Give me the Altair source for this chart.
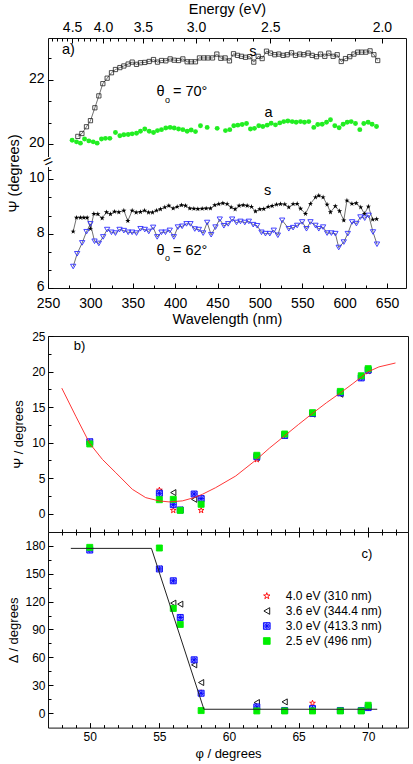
import altair as alt
import pandas as pd

FONT = "Liberation Sans"

# ---------------- panel a data (Psi vs wavelength) ----------------
s70_nm = [285.2, 290.0, 295.4, 300.1, 305.3, 310.0, 314.7, 319.8, 324.9, 329.6,
          334.8, 339.5, 344.6, 349.3, 354.4, 359.1, 364.2, 369.4, 374.5, 379.2,
          383.9, 389.0, 394.1, 398.9, 404.0, 409.1, 414.2, 418.9, 424.0, 428.7,
          433.9, 438.6, 444.1, 449.2, 453.9, 459.0, 464.1, 468.9, 473.6, 478.3,
          483.0, 488.1, 492.8, 498.0, 502.7, 507.8, 512.5, 517.6, 522.3, 527.4,
          532.2, 537.3, 542.0, 547.1, 551.8, 556.9, 561.7, 566.8, 571.5, 576.6,
          581.3, 586.4, 591.2,
          596.0, 601.0, 606.0, 611.0, 615.5, 620.0, 625.0, 630.0, 634.5, 639.0]
s70_psi = [20.24, 20.33, 20.54, 20.73, 21.13, 21.50, 21.88, 22.05, 22.22, 22.32,
           22.38, 22.43, 22.49, 22.55, 22.48, 22.53, 22.54, 22.57, 22.63, 22.55,
           22.60, 22.59, 22.65, 22.61, 22.60, 22.65, 22.56, 22.56, 22.56, 22.68,
           22.68, 22.68, 22.68, 22.80, 22.67, 22.68, 22.59, 22.81, 22.76, 22.73,
           22.70, 22.72, 22.55, 22.73, 22.66, 22.89, 22.83, 22.78, 22.80, 22.76,
           22.78, 22.84, 22.76, 22.80, 22.78, 22.83, 22.76, 22.72, 22.80, 22.73,
           22.83, 22.73, 22.78,
           22.57, 22.66, 22.72, 22.80, 22.86, 22.86, 22.86, 22.90, 22.78, 22.60]

a70_nm = [278.5, 283.6, 288.3, 293.1, 298.2, 303.3, 308.0, 313.1, 317.8, 323.0,
          329.6, 334.8, 339.5, 344.6, 349.3, 354.4, 359.1, 364.2, 369.4, 374.5,
          379.2, 383.9, 389.0, 394.1, 398.9, 404.0, 409.1, 414.2, 418.9, 424.0,
          429.9, 437.8, 449.6, 459.4, 464.5, 469.2, 474.0, 479.1, 484.2, 488.9,
          493.6, 498.7, 503.5, 508.6, 513.3, 518.4, 523.5, 528.2, 533.0, 538.1,
          542.8, 547.9, 552.6, 557.7, 563.6, 568.3, 573.5, 578.6, 583.3, 588.4,
          593.5, 598.2, 603.0, 607.7, 612.8, 617.9, 622.6, 627.7, 632.4, 637.6]
a70_psi = [20.12, 20.07, 20.03, 20.16, 20.10, 20.07, 20.03, 20.16, 20.18, 20.18,
           20.36, 20.26, 20.29, 20.30, 20.32, 20.34, 20.40, 20.47, 20.40, 20.36,
           20.42, 20.45, 20.50, 20.52, 20.50, 20.47, 20.45, 20.40, 20.44, 20.39,
           20.57, 20.52, 20.49, 20.42, 20.45, 20.57, 20.59, 20.61, 20.64, 20.47,
           20.49, 20.57, 20.55, 20.59, 20.65, 20.60, 20.66, 20.70, 20.72, 20.70,
           20.68, 20.70, 20.68, 20.70, 20.52, 20.61, 20.62, 20.68, 20.76, 20.57,
           20.51, 20.62, 20.68, 20.70, 20.64, 20.45, 20.64, 20.68, 20.62, 20.55]

s62_nm = [279.7, 283.6, 288.3, 292.3, 296.2, 300.1, 304.1, 308.8, 313.9, 319.0,
          323.7, 328.5, 333.6, 339.5, 344.2, 349.3, 354.0, 359.1, 363.9, 368.6,
          373.3, 378.0, 382.7, 387.8, 392.6, 397.7, 402.4, 407.5, 412.2, 417.3,
          422.1, 426.8, 431.9, 436.6, 441.7, 446.8, 451.5, 456.3, 461.4, 466.1,
          470.8, 475.5, 480.3, 485.0, 490.1, 494.8, 499.9, 504.6, 509.8, 514.5,
          519.6, 524.3, 529.4, 534.1, 539.2, 544.0, 548.0, 553.8, 559.7, 565.6,
          569.5, 574.6, 579.3, 583.3, 589.0, 594.0, 599.0, 602.7, 608.6, 613.7,
          619.0, 623.4, 628.0, 633.1, 637.8]
s62_psi = [8.08, 8.59, 8.59, 8.59, 8.59, 8.18, 8.73, 8.72, 8.57, 8.79,
           8.72, 8.81, 8.79, 8.85, 8.47, 8.85, 8.78, 8.80, 8.85, 8.78,
           8.78, 8.85, 8.90, 8.97, 9.03, 8.93, 8.99, 9.05, 9.03, 8.93,
           8.92, 8.91, 8.92, 8.93, 8.93, 9.05, 9.09, 9.12, 9.09, 8.97,
           8.90, 9.03, 9.05, 9.03, 8.99, 8.82, 8.90, 8.91, 8.99, 9.02,
           9.07, 9.09, 9.08, 8.97, 9.09, 9.10, 8.92, 8.73, 9.10, 9.34,
           9.40, 9.34, 9.07, 8.79, 9.01, 8.83, 8.49, 9.22, 9.10, 9.12,
           8.97, 8.73, 9.00, 8.52, 8.54]

a62_nm = [279.7, 284.4, 290.3, 295.4, 300.1, 304.9, 310.0, 315.1, 319.8, 324.9,
          329.6, 334.4, 339.5, 344.6, 349.3, 354.4, 359.1, 364.2, 368.9, 374.1,
          378.8, 383.9, 388.6, 393.7, 398.5, 403.2, 408.3, 413.4, 418.1, 423.2,
          428.0, 433.1, 437.8, 442.5, 447.6, 452.7, 457.5, 462.6, 467.3, 472.4,
          477.1, 482.2, 487.0, 492.1, 496.8, 501.9, 506.6, 511.7, 516.4, 521.2,
          526.3, 534.1, 539.2, 544.0, 549.9, 555.0, 559.7, 565.6, 569.5, 574.6,
          579.3, 584.4, 589.1, 593.0, 599.0, 603.7, 608.8, 613.9, 618.6, 623.7,
          628.4, 633.5, 638.2]
a62_psi = [6.79, 7.26, 7.66, 8.07, 8.36, 7.72, 7.64, 7.88, 8.15, 8.05,
           8.02, 8.15, 8.11, 8.05, 8.05, 8.02, 8.18, 8.15, 8.08, 8.23,
           7.88, 8.05, 8.05, 8.12, 7.88, 8.24, 8.27, 8.36, 8.36, 8.17,
           8.15, 8.02, 8.41, 7.96, 8.24, 8.53, 8.29, 8.36, 8.53, 8.41,
           8.45, 8.41, 8.45, 8.33, 8.29, 8.05, 8.00, 8.00, 8.12, 7.94,
           8.49, 8.18, 8.22, 8.30, 8.43, 8.18, 8.43, 8.30, 8.18, 8.24,
           8.02, 8.02, 8.00, 7.49, 7.69, 8.00, 8.43, 8.37, 8.61, 8.57,
           8.67, 8.06, 7.61]

# ---------------- panels b/c data ----------------
series = ["4.0 eV (310 nm)", "3.6 eV (344.4 nm)", "3.0 eV (413.3 nm)", "2.5 eV (496 nm)"]
phi = [50, 55, 56, 56.5, 57.5, 58, 62, 64, 66, 68, 69.5, 70]
psi_40 = [10.0, 3.3, 0.45, 0.5, 2.7, 0.45, 7.6, 11.0, 14.0, 16.9, 19.2, 20.0]
psi_36 = [10.1, 2.9, 2.95, 0.5, 2.0, 2.1, 7.9, 11.0, 14.0, 16.8, 19.2, 20.2]
psi_30 = [10.1, 2.85, 1.25, 0.5, 2.75, 2.1, 8.0, 11.0, 14.1, 17.0, 19.1, 20.2]
psi_25 = [9.8, 1.95, 2.0, 0.45, None, 1.3, 8.2, 11.2, 14.2, 17.2, 19.4, 20.4]
delta_40 = [176.0, 155.0, 142.0, 103.0, 57.0, 22.0, 7.0, 3.0, 10.8, 3.0, 3.0, 7.0]
delta_36 = [176.0, 155.0, 118.3, 117.2, 52.0, 33.0, 11.5, 12.2, 4.0, 3.0, 3.0, 7.0]
delta_30 = [175.3, 155.0, 142.3, 102.9, 57.4, 21.5, 6.8, 3.0, 5.0, 3.0, 3.0, 6.1]
delta_25 = [178.2, 177.5, 112.6, 95.4, None, 2.9, 2.5, 2.5, 2.5, 2.5, 2.5, 8.6]

fit_phi = [47.99, 49.0, 50.0, 50.91, 51.87, 53.06, 54.02, 54.98, 55.69, 56.65, 57.49,
           58.09, 59.04, 60.48, 61.99, 62.9, 63.97, 65.0, 66.0, 67.0, 67.94, 68.9,
           69.98, 70.77, 71.96]
fit_psi = [17.66, 13.69, 9.86, 7.62, 5.75, 3.41, 2.24, 1.78, 1.64, 1.78, 2.24,
           2.71, 3.64, 5.28, 7.62, 9.2, 10.9, 12.55, 14.1, 15.6, 16.9, 18.3,
           19.95, 20.65, 21.2]
model_phi = [48.64, 54.43, 58.2, 70.65]
model_delta = [177.1, 177.1, 4.3, 4.3]

# ---------------- helpers ----------------
STAR = ("M0,-1L0.225,-0.309L0.951,-0.309L0.363,0.118L0.588,0.809L0,0.382"
        "L-0.588,0.809L-0.363,0.118L-0.951,-0.309L-0.225,-0.309Z")
AST_SQ = ("M-1,-1L1,-1L1,1L-1,1Z M-1,0L1,0 M0,-1L0,1 "
          "M-0.72,-0.72L0.72,0.72 M-0.72,0.72L0.72,-0.72")


def ax(orient, values, size, **kw):
    d = dict(orient=orient, values=values, offset=-size, tickSize=size, domain=False,
             grid=False, labelFlush=False, labelOverlap=False, tickColor="black",
             tickWidth=1, title=None)
    d.update(kw)
    return alt.Axis(**d)


# ---------------- panel a ----------------
sx_a = alt.Scale(domain=[250, 672.4], nice=False, zero=False)
sy_a = alt.Scale(domain=[6, 10.6, 19.5, 23.3], range=[250, 125, 122.2, 0],
                 nice=False, zero=False)

nm_major = [250, 300, 350, 400, 450, 500, 550, 600, 650]
nm_minor = [275, 325, 375, 425, 475, 525, 575, 625]
psi_major = [6, 8, 10, 20, 22]
psi_minor = [6.667, 7.333, 8.667, 9.333, 10.333, 20.667, 21.333, 22.667]
e_major = [4.5, 4.0, 3.5, 3.0, 2.5, 2.0]
e_minor = [4.9, 4.8, 4.7, 4.6, 4.4, 4.3, 4.2, 4.1, 3.9, 3.8, 3.7, 3.6, 3.4, 3.3,
           3.2, 3.1, 2.9, 2.8, 2.7, 2.6, 2.4, 2.3, 2.2, 2.1]
HC = 1239.84 * 1.0613


def e_pos(E):
    return round(HC / E - 14, 2)


a_bottom = ax("bottom", nm_major, 5, labelPadding=8, labelFontSize=14, format="d",
              title="Wavelength (nm)", titleFontSize=14.5, titlePadding=2)
a_bottom_minor = ax("bottom", nm_minor, 3, labels=False)
a_top = ax("top", [e_pos(e) for e in e_major], 5, labelPadding=4, labelFontSize=14,
           labelExpr=f"format({HC:.4f}/(datum.value+14), '.1f')",
           title="Energy (eV)", titleFontSize=14.5, titlePadding=4)
a_top_minor = ax("top", [e_pos(e) for e in e_minor], 3, labels=False)
a_left = ax("left", psi_major, 5, labelPadding=4, labelFontSize=14, labelOffset=-1.5,
            title="Ψ (degrees)", titleFontSize=14.5, titlePadding=7, titleY=135)
a_left_minor = ax("left", psi_minor, 3, labels=False)


def xa(axis):
    return alt.X("nm:Q", scale=sx_a, axis=axis)


def ya(axis):
    return alt.Y("psi:Q", scale=sy_a, axis=axis)


df_s70 = pd.DataFrame({"nm": s70_nm, "psi": s70_psi})
df_a70 = pd.DataFrame({"nm": a70_nm, "psi": a70_psi})
df_s62 = pd.DataFrame({"nm": s62_nm, "psi": s62_psi})
df_a62 = pd.DataFrame({"nm": a62_nm, "psi": a62_psi})

ann_a = pd.DataFrame({
    "t": ["a)", "s", "θ", "= 70°", "a", "s", "θ", "= 62°", "a"],
    "nm": [274.2, 491.6, 382.7, 417.8, 510.2, 509.0, 382.7, 417.8, 555.0],
    "psi": [22.93, 22.87, 21.62, 21.62, 20.97, 9.58, 7.37, 7.37, 7.43],
})
sub_a = pd.DataFrame({"t": ["o", "o"], "nm": [391.0, 391.0], "psi": [21.37, 7.10]})
brk = pd.DataFrame({"x0": [248.0], "x1": [252.0], "y0": [19.6], "y1": [10.45]})
brk_mark = pd.DataFrame({"t": ["="], "nm": [250.0], "psi": [15.0]})

la = [
    alt.Chart(df_s70).mark_line(color="#333", strokeWidth=0.7).encode(
        x=xa(a_bottom), y=ya(a_left)),
    alt.Chart(df_s70).mark_point(shape="square", size=18, filled=False, color="#222",
                                 strokeWidth=0.8, opacity=1).encode(
        x=xa(a_bottom_minor), y=ya(a_left_minor)),
    alt.Chart(df_a70).mark_circle(size=24, color="#22ee22", opacity=1).encode(
        x=xa(a_top), y=ya(None)),
    alt.Chart(df_s62).mark_line(color="#333", strokeWidth=0.7).encode(
        x=xa(a_top_minor), y=ya(None)),
    alt.Chart(df_s62).mark_point(shape=STAR, size=30, filled=True, color="black",
                                 opacity=1).encode(x=xa(None), y=ya(None)),
    alt.Chart(df_a62).mark_line(color="#333", strokeWidth=0.7).encode(
        x=xa(None), y=ya(None)),
    alt.Chart(df_a62).mark_point(shape="triangle-down", size=28, filled=False,
                                 color="#3030ff", strokeWidth=0.9, opacity=1).encode(
        x=xa(None), y=ya(None)),
    alt.Chart(ann_a).mark_text(fontSize=14.5, font=FONT, color="black",
                               baseline="middle", align="center").encode(
        x=xa(None), y=ya(None), text="t:N"),
    alt.Chart(sub_a).mark_text(fontSize=9, font=FONT, color="black",
                               baseline="middle", align="center").encode(
        x=xa(None), y=ya(None), text="t:N"),
    alt.Chart(brk).mark_rect(color="white").encode(
        x=alt.X("x0:Q", scale=sx_a, axis=None), x2="x1:Q",
        y=alt.Y("y0:Q", scale=sy_a, axis=None), y2="y1:Q"),
    alt.Chart(brk_mark).mark_text(fontSize=16, font=FONT, color="black", angle=335,
                                  baseline="middle", align="center").encode(
        x=xa(None), y=ya(None), text="t:N"),
]
panel_a = alt.layer(*la).resolve_axis(x="independent", y="independent").properties(
    width=358, height=250)

# ---------------- panels b and c ----------------
sx_b = alt.Scale(domain=[47, 72.86], nice=False, zero=False)
sy_b = alt.Scale(domain=[-2.6, 25], nice=False, zero=False)
sy_c = alt.Scale(domain=[-15.4, 194.7], nice=False, zero=False)
phi_major = [50, 55, 60, 65, 70]
phi_minor = [48, 49, 51, 52, 53, 54, 56, 57, 58, 59, 61, 62, 63, 64, 66, 67, 68, 69, 71, 72]
b_major = [0, 5, 10, 15, 20, 25]
b_minor = [2.5, 7.5, 12.5, 17.5, 22.5]
c_major = [0, 30, 60, 90, 120, 150, 180]
c_minor = [15, 45, 75, 105, 135, 165]

rows = []
for name, ps, ds in zip(series, [psi_40, psi_36, psi_30, psi_25],
                        [delta_40, delta_36, delta_30, delta_25]):
    for p, v, d in zip(phi, ps, ds):
        rows.append({"phi": p, "psi": v, "delta": d, "series": name})
pts = pd.DataFrame(rows)
pts_other = pts[pts["series"] != series[3]]
pts_green = pts[pts["series"] == series[3]]


def sym_enc(legend):
    return dict(
        shape=alt.Shape("series:N", scale=alt.Scale(
            domain=series, range=[STAR, "triangle-left", AST_SQ, "square"]), legend=legend),
        fill=alt.Fill("series:N", scale=alt.Scale(
            domain=series, range=["transparent", "transparent", "#9c9cff", "#00ee00"]),
            legend=legend),
        stroke=alt.Stroke("series:N", scale=alt.Scale(
            domain=series, range=["#ff0000", "#000000", "#0000ff", "#00ee00"]),
            legend=legend),
    )


def xb(axis):
    return alt.X("phi:Q", scale=sx_b, axis=axis)


b_left = ax("left", b_major, 5, labelPadding=3, labelFontSize=12,
            title="Ψ / degrees", titleFontSize=13, titlePadding=6)
lb = [
    alt.Chart(pts_other).mark_point(size=36, strokeWidth=0.9, opacity=1).encode(
        x=xb(ax("bottom", phi_major, 5, labels=False)),
        y=alt.Y("psi:Q", scale=sy_b, axis=b_left), **sym_enc(None)),
    alt.Chart(pts_green).mark_point(size=36, strokeWidth=0.9, opacity=1).encode(
        x=xb(ax("bottom", phi_minor, 3, labels=False)),
        y=alt.Y("psi:Q", scale=sy_b, axis=ax("left", b_minor, 3, labels=False)),
        **sym_enc(None)),
    alt.Chart(pd.DataFrame({"phi": fit_phi, "psi": fit_psi})).mark_line(
        color="#ff2020", strokeWidth=0.9).encode(
        x=xb(None), y=alt.Y("psi:Q", scale=sy_b, axis=None)),
    alt.Chart(pd.DataFrame({"t": ["b)"], "phi": [49.27], "psi": [23.6]})).mark_text(
        fontSize=13, font=FONT, color="black", baseline="middle", align="center").encode(
        x=xb(None), y=alt.Y("psi:Q", scale=sy_b, axis=None), text="t:N"),
]
panel_b = alt.layer(*lb).resolve_axis(x="independent", y="independent").properties(
    width=360, height=196)

legend_c = alt.Legend(orient="none", legendX=212.8, legendY=58, title=None,
                      labelFontSize=12, labelFont=FONT, labelColor="black",
                      symbolSize=45, symbolStrokeWidth=0.9, rowPadding=3,
                      labelOffset=13, padding=0, symbolOpacity=1)
c_bottom = ax("bottom", phi_major, 5, labelPadding=4, labelFontSize=12, format="d",
              title="φ / degrees", titleFontSize=13, titlePadding=5)
c_left = ax("left", c_major, 5, labelPadding=3, labelFontSize=12,
            title="Δ / degrees", titleFontSize=13, titlePadding=4)
lc = [
    alt.Chart(pts_other).mark_point(size=36, strokeWidth=0.9, opacity=1).encode(
        x=xb(c_bottom), y=alt.Y("delta:Q", scale=sy_c, axis=c_left), **sym_enc(legend_c)),
    alt.Chart(pts_green).mark_point(size=36, strokeWidth=0.9, opacity=1).encode(
        x=xb(ax("bottom", phi_minor, 3, labels=False)),
        y=alt.Y("delta:Q", scale=sy_c, axis=ax("left", c_minor, 3, labels=False)),
        **sym_enc(legend_c)),
    alt.Chart(pd.DataFrame({"phi": model_phi, "delta": model_delta})).mark_line(
        color="#222", strokeWidth=1).encode(
        x=xb(ax("top", phi_major, 5, labels=False)),
        y=alt.Y("delta:Q", scale=sy_c, axis=None)),
    alt.Chart(pd.DataFrame({"t": ["c)"], "phi": [69.91], "delta": [171.5]})).mark_text(
        fontSize=13, font=FONT, color="black", baseline="middle", align="center").encode(
        x=xb(ax("top", phi_minor, 3, labels=False)),
        y=alt.Y("delta:Q", scale=sy_c, axis=None), text="t:N"),
]
panel_c = alt.layer(*lc).resolve_axis(x="independent", y="independent").properties(
    width=360, height=195.6)

inner = alt.vconcat(panel_b, panel_c, spacing=0, bounds="flush").resolve_scale(
    shape="independent", fill="independent", stroke="independent").resolve_legend(
    shape="independent", fill="independent", stroke="independent")

chart = alt.vconcat(panel_a, inner, spacing=3).properties(
    padding={"left": 5, "top": 0, "right": 0, "bottom": 0}
).configure_view(stroke="#111", strokeWidth=1).configure_axis(
    labelFont=FONT, titleFont=FONT, labelColor="black", titleColor="black",
    titleFontWeight="normal", grid=False
).configure_text(font=FONT)

chart.save("out.html", embed_options={"renderer": "svg", "actions": False})
